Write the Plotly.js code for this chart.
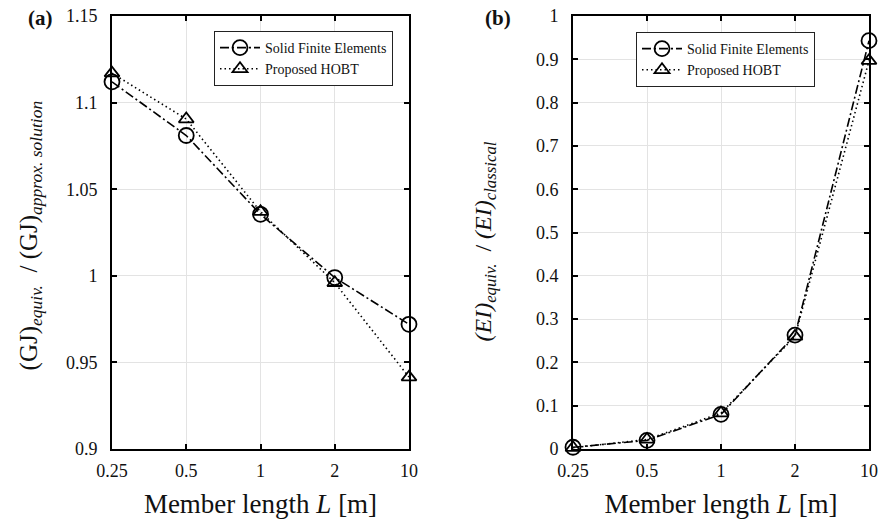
<!DOCTYPE html>
<html>
<head>
<meta charset="utf-8">
<script src="https://cdn.plot.ly/plotly-3.0.1.min.js"></script>
<style>html,body{margin:0;padding:0;background:#fff}#chart{width:884px;height:521px}</style>
</head>
<body>
<div id="chart"></div>
<script>
const lengths = ['0.25', '0.5', '1', '2', '10'];
const gjSolidFE = [1.112, 1.081, 1.0355, 0.999, 0.972];
const gjHOBT = [1.117, 1.0905, 1.037, 0.996, 0.9415];
const eiSolidFE = [0.004, 0.020, 0.080, 0.263, 0.943];
const eiHOBT = [0.003, 0.022, 0.083, 0.260, 0.897];
const gjTicks = [0.9, 0.95, 1, 1.05, 1.1, 1.15];
const gjTickText = ['0.9', '0.95', '1', '1.05', '1.1', '1.15'];
const eiTicks = [0, 0.1, 0.2, 0.3, 0.4, 0.5, 0.6, 0.7, 0.8, 0.9, 1];
const eiTickText = ['0', '0.1', '0.2', '0.3', '0.4', '0.5', '0.6', '0.7', '0.8', '0.9', '1'];
const seriesNames = ['Solid Finite Elements', 'Proposed HOBT'];

const serif = 'Liberation Serif';

function trace(y, name, dash, symbol, size, xa, ya, legend) {
  return {
    x: lengths, y: y, name: name, type: 'scatter', mode: 'lines+markers',
    xaxis: xa, yaxis: ya, legend: legend, showlegend: true, cliponaxis: false,
    line: {color: '#000', width: 1.6, dash: dash},
    marker: {symbol: symbol, size: size, color: '#000', line: {color: '#000', width: 1.8}}
  };
}

const data = [
  trace(gjSolidFE, seriesNames[0], '9px,3px,2px,3px', 'circle-open', 15, 'x', 'y', 'legend'),
  trace(gjHOBT, seriesNames[1], '1.5px,3px', 'triangle-up-open', 13, 'x', 'y', 'legend'),
  trace(eiSolidFE, seriesNames[0], '9px,3px,2px,3px', 'circle-open', 15, 'x2', 'y2', 'legend2'),
  trace(eiHOBT, seriesNames[1], '1.5px,3px', 'triangle-up-open', 13, 'x2', 'y2', 'legend2')
];

function xaxis(domain, anchor) {
  return {
    domain: domain, anchor: anchor, type: 'category', range: [0, 4],
    showline: true, linecolor: '#000', linewidth: 2, mirror: 'ticks',
    ticks: 'inside', ticklen: 5, tickwidth: 2, tickcolor: '#000',
    showgrid: true, gridcolor: '#e3e3e3', gridwidth: 1, zeroline: false,
    ticklabelstandoff: 4,
    tickfont: {family: serif, size: 18, color: '#111'},
    title: {text: 'Member length <i>L</i> [m]', font: {family: serif, size: 27, color: '#111'}, standoff: 15},
    automargin: false
  };
}
function yaxis(domain, anchor, range, tv, tt, title, size, standoff) {
  return {
    domain: domain, anchor: anchor, range: range, tickvals: tv, ticktext: tt,
    showline: true, linecolor: '#000', linewidth: 2, mirror: 'ticks',
    ticks: 'inside', ticklen: 5, tickwidth: 2, tickcolor: '#000',
    showgrid: true, gridcolor: '#e3e3e3', gridwidth: 1, zeroline: false,
    ticklabelstandoff: 9,
    tickfont: {family: serif, size: 18, color: '#111'},
    title: {text: title, font: {family: serif, size: size, color: '#111'}, standoff: standoff},
    automargin: false
  };
}

const yDom = [1 - 449 / 521, 1 - 16 / 521];
const layout = {
  width: 884, height: 521,
  margin: {l: 0, r: 0, t: 0, b: 0},
  paper_bgcolor: '#fff', plot_bgcolor: '#fff',
  font: {family: serif},
  xaxis: xaxis([112 / 884, 409 / 884], 'y'),
  yaxis: yaxis(yDom, 'x', [0.9, 1.15], gjTicks, gjTickText,
    '(GJ)<sub><i>equiv.</i></sub>  / (GJ)<sub><i>approx. solution</i></sub>&nbsp;', 25, 21),
  xaxis2: xaxis([573 / 884, 869 / 884], 'y2'),
  yaxis2: yaxis(yDom, 'x2', [0, 1], eiTicks, eiTickText,
    '<i>(EI)<sub>equiv.</sub></i>  / <i>(EI)<sub>classical</sub></i>&nbsp;&nbsp;&nbsp;', 24, 38),
  legend: {
    x: 393 / 884, y: 1 - 31 / 521, xanchor: 'right', yanchor: 'top',
    bgcolor: '#fff', bordercolor: '#222', borderwidth: 1,
    font: {family: serif, size: 14, color: '#111'}, tracegroupgap: 0, itemwidth: 40
  },
  legend2: {
    x: 815 / 884, y: 1 - 32 / 521, xanchor: 'right', yanchor: 'top',
    bgcolor: '#fff', bordercolor: '#222', borderwidth: 1,
    font: {family: serif, size: 14, color: '#111'}, tracegroupgap: 0, itemwidth: 40
  },
  annotations: [
    {text: '<b>(a)</b>', xref: 'paper', yref: 'paper', x: 40 / 884, y: 1 - 18 / 521, xanchor: 'center', yanchor: 'middle', showarrow: false, font: {family: serif, size: 21, color: '#111'}},
    {text: '<b>(b)</b>', xref: 'paper', yref: 'paper', x: 498 / 884, y: 1 - 18 / 521, xanchor: 'center', yanchor: 'middle', showarrow: false, font: {family: serif, size: 21, color: '#111'}}
  ],
  showlegend: true
};

Plotly.newPlot('chart', data, layout, {displayModeBar: false, staticPlot: true});
</script>
</body>
</html>
